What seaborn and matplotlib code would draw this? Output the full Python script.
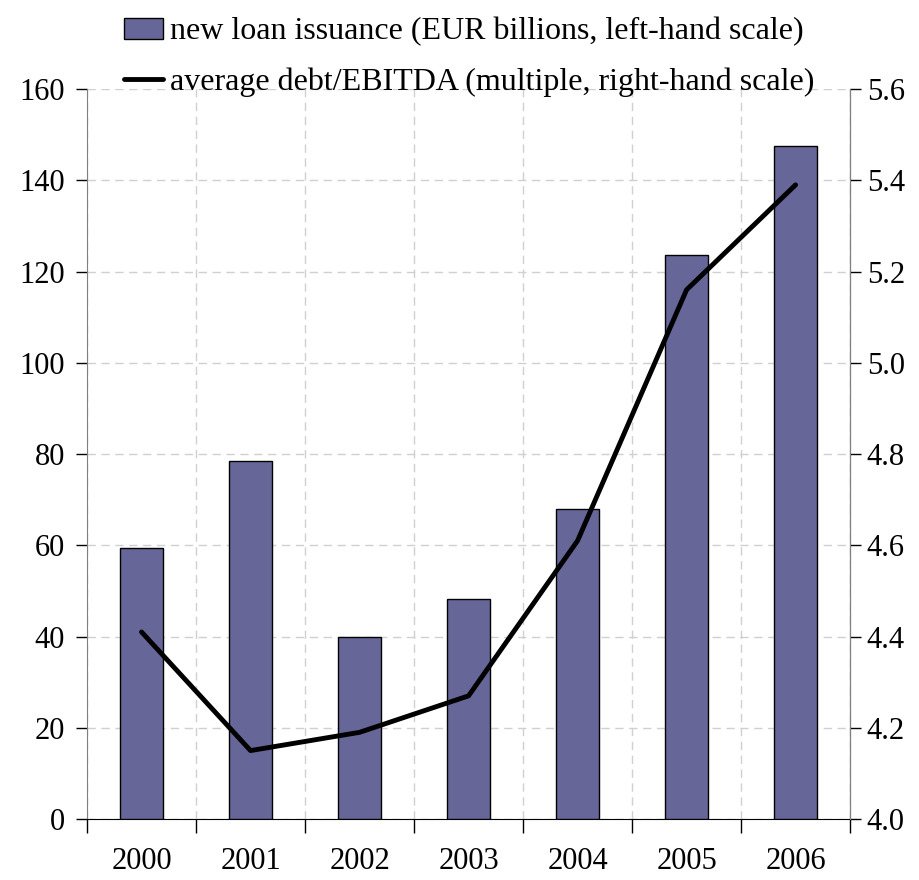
import numpy as np
import pandas as pd
import matplotlib
matplotlib.use("Agg")
import matplotlib.pyplot as plt
import seaborn as sns
from matplotlib.patches import Patch
from matplotlib.lines import Line2D

years = ["2000", "2001", "2002", "2003", "2004", "2005", "2006"]
loan_issuance = [59.5, 78.5, 40.0, 48.2, 67.9, 123.6, 147.5]
debt_ebitda = [4.41, 4.15, 4.19, 4.27, 4.61, 5.16, 5.39]

df = pd.DataFrame({"year": years, "loans": loan_issuance, "debt": debt_ebitda})

sns.set_style("white")
plt.rcParams["font.family"] = ["Liberation Serif", "DejaVu Serif"]
plt.rcParams["font.size"] = 22
plt.rcParams["text.color"] = "black"
plt.rcParams["xtick.color"] = "black"
plt.rcParams["ytick.color"] = "black"

fig = plt.figure(figsize=(9.2, 8.8), dpi=100)
ax1 = fig.add_axes([0.0946, 0.0693, 0.8294, 0.8295])
ax2 = ax1.twinx()

bar_color = "#666699"
sns.barplot(x="year", y="loans", data=df, ax=ax1, color=bar_color,
            width=0.4, edgecolor="black", linewidth=1.0, saturation=1, zorder=3)
sns.pointplot(x="year", y="debt", data=df, ax=ax2, color="black",
              markers="", linewidth=3.5, errorbar=None)

ax1.set_xlim(-0.5, 6.5)
ax1.set_ylim(0, 160)
ax1.set_yticks(np.arange(0, 161, 20))
ax2.set_ylim(4.0, 5.6)
ax2.set_yticks(np.arange(4.0, 5.61, 0.2))
ax2.set_yticklabels([f"{v:.1f}" for v in np.arange(4.0, 5.61, 0.2)])

# category boundaries as major ticks, labels on minor ticks
ax1.set_xticks(np.arange(-0.5, 7.0, 1.0))
ax1.set_xticklabels([])
ax1.set_xticks(np.arange(0, 7), minor=True)
ax1.set_xticklabels(years, minor=True)
ax1.tick_params(axis="x", which="major", direction="out", length=10, width=1, color="black", bottom=True)
ax1.tick_params(axis="x", which="minor", length=0, pad=20, labelsize=22)
ax1.tick_params(axis="y", direction="out", length=8, width=1, left=True, labelsize=22, pad=8)
ax2.tick_params(axis="y", direction="out", length=8, width=1, right=True, labelsize=22, pad=4)

ax1.set_axisbelow(True)
ax1.grid(True, which="major", axis="both", color="#d0d0d0", linestyle=(0, (6, 4)), linewidth=1)
ax2.grid(False)

ax1.set_xlabel("")
ax1.set_ylabel("")
ax2.set_xlabel("")
ax2.set_ylabel("")

for ax in (ax1, ax2):
    ax.spines["top"].set_visible(False)
ax1.spines["bottom"].set_color("black")
ax1.spines["left"].set_color("#808080")
ax2.spines["right"].set_color("#808080")
ax2.spines["left"].set_visible(False)
ax2.spines["bottom"].set_visible(False)

handles = [
    Patch(facecolor=bar_color, edgecolor="black", linewidth=1.0),
    Line2D([0], [0], color="black", linewidth=3.5),
]
labels = [
    "new loan issuance (EUR billions, left-hand scale)",
    "average debt/EBITDA (multiple, right-hand scale)",
]
fig.legend(handles, labels, loc="upper center", bbox_to_anchor=(0.51, 1.013),
           frameon=False, fontsize=23, handlelength=1.19, handleheight=0.66,
           handletextpad=0.22, labelspacing=0.65)

fig.savefig("out.png", dpi=100)
